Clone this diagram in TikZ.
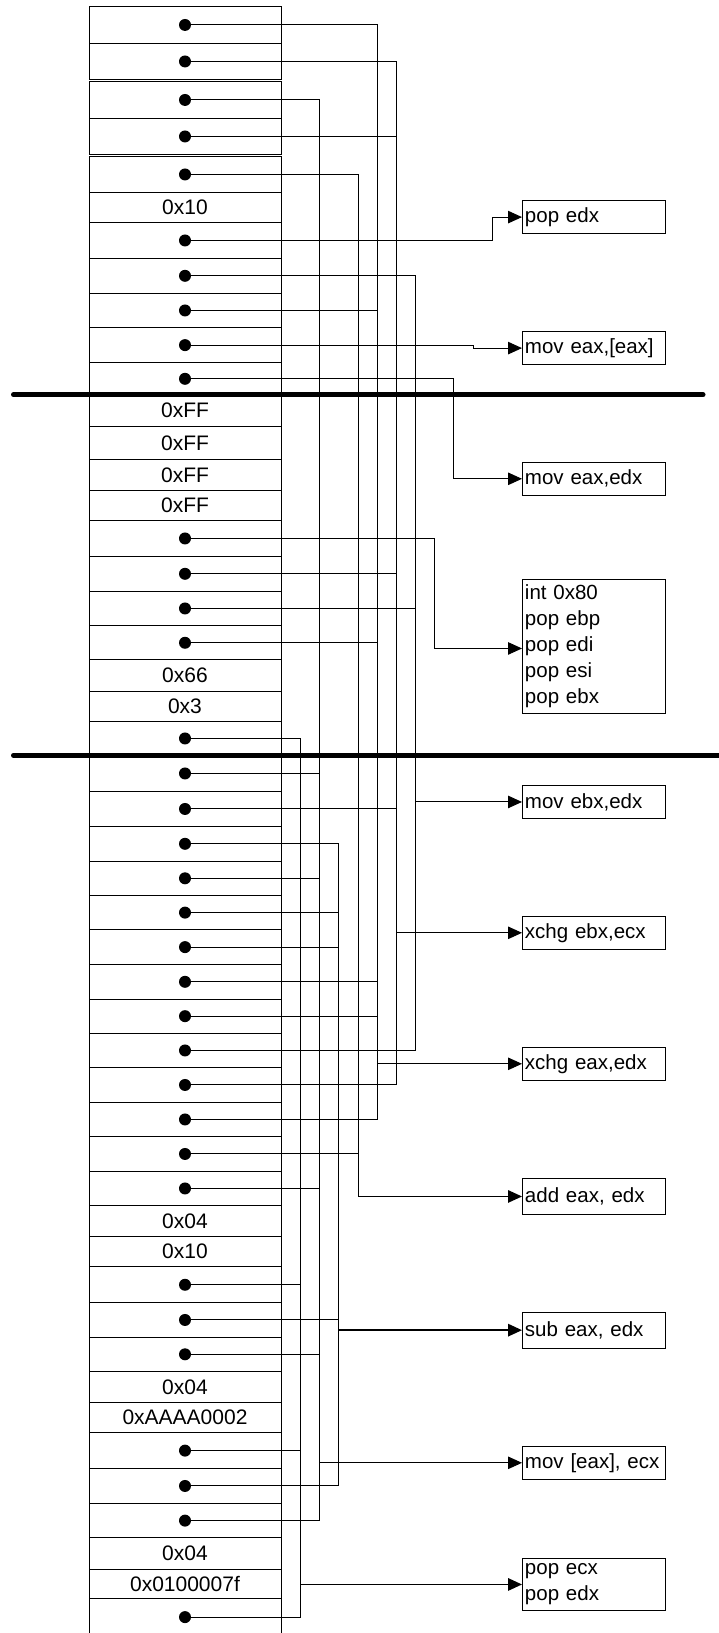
\documentclass[tikz,border=0pt]{standalone}
\usepackage{fontspec}
\setmainfont{Liberation Sans}
\usetikzlibrary{arrows.meta}
\tikzset{
  cell/.style={draw, line width=0.9pt, minimum width=192pt, inner sep=0pt, anchor=north,
    font=\fontsize{21}{25}\selectfont},
  stackdot/.style={circle, fill=black, inner sep=0pt, minimum size=12pt},
  conn/.style={line width=1pt},
  arr/.style={conn, -{Triangle[length=14pt,width=12.5pt]}},
  instr/.style={draw, line width=0.9pt, text width=137.5pt, inner xsep=2.5pt, inner ysep=0pt,
    align=left, anchor=north west, font=\fontsize{20.5}{26}\selectfont},
  sep/.style={line width=5pt, line cap=round}
}
\begin{document}
\begin{tikzpicture}[x=1pt,y=-1pt]
\useasboundingbox (0,0) rectangle (719,1633);
\clip (0,0) rectangle (719,1633);
% stack cells
\foreach \n/\t/\b/\l in {
 1/6/43/{}, 2/43/79/{}, 3/81/118/{}, 4/118/154/{},
 5/156/192/{}, 6/192/222/0x10, 7/222/258/{}, 8/258/292.7/{}, 9/292.7/327.3/{},
 10/327.3/362/{}, 11/362/394.7/{}, 12/394.7/425.7/0xFF, 13/425.7/459/0xFF,
 14/459/490.3/0xFF, 15/490.3/520/0xFF, 16/520/556/{}, 17/556/590.7/{},
 18/590.7/625.3/{}, 19/625.3/659.3/{}, 20/659.3/691/0x66, 21/691/721/0x3,
 22/721/755/{}, 23/755/791/{}, 24/791/826/{}, 25/826/860.7/{}, 26/860.7/895/{},
 27/895/929.3/{}, 28/929.3/964/{}, 29/964/998.7/{}, 30/998.7/1032.7/{},
 31/1032.7/1067.3/{}, 32/1067.3/1101.7/{}, 33/1101.7/1136.3/{}, 34/1136.3/1170.7/{},
 35/1170.7/1205.3/{}, 36/1205.3/1236/0x04, 37/1236/1266.3/0x10, 38/1266.3/1302.3/{},
 39/1302.3/1336.7/{}, 40/1336.7/1371/{}, 41/1371/1402/0x04, 42/1402/1432.3/0xAAAA0002,
 43/1432.3/1468/{}, 44/1468/1503/{}, 45/1503/1537.3/{}, 46/1537.3/1568.7/0x04,
 47/1568.7/1598.3/0x0100007f, 48/1598.3/1635/{}}
 \node[cell, minimum height={\b-\t}] (c\n) at (185,\t) {\l};
% dots
\foreach \n in {1,2,3,4,5,7,8,9,10,11,16,17,18,19,22,23,24,25,26,27,28,29,30,31,32,33,34,35,38,39,40,43,44,45,48}
 \node[stackdot] (d\n) at (c\n.center) {};
% instruction boxes
\node[instr, minimum height=33.3pt] (bpopedx) at (522,200) {pop edx};
\node[instr, minimum height=33.3pt] (bmoveaxm) at (522,331) {mov eax,[eax]};
\node[instr, minimum height=33.3pt] (bmoveaxedx) at (522,461.7) {mov eax,edx};
\node[instr, minimum height=134.6pt] (bint) at (522,578.7) {int 0x80\\pop ebp\\pop edi\\pop esi\\pop ebx};
\node[instr, minimum height=33.6pt] (bmovebx) at (522,784.7) {mov ebx,edx};
\node[instr, minimum height=33.3pt] (bxchgebx) at (522,915.7) {xchg ebx,ecx};
\node[instr, minimum height=33.3pt] (bxchgeax) at (522,1046.7) {xchg eax,edx};
\node[instr, minimum height=36pt] (badd) at (522,1178) {add eax, edx};
\node[instr, minimum height=36pt] (bsub) at (522,1311.7) {sub eax, edx};
\node[instr, minimum height=33.3pt] (bmovm) at (522,1445.7) {mov [eax], ecx};
\node[instr, minimum height=52pt] (bpopecx) at (522,1558) {pop ecx\\pop edx};
% bus columns
\coordinate (xA) at (300,0);
\coordinate (xB) at (319.3,0);
\coordinate (xC) at (338.7,0);
\coordinate (xD) at (358,0);
\coordinate (xE) at (377,0);
\coordinate (xF) at (396,0);
\coordinate (xG) at (415,0);
\coordinate (xH) at (434,0);
\coordinate (xI) at (453.7,0);
\coordinate (xJ) at (473.3,0);
\coordinate (xK) at (492.3,0);
% group A -> pop ecx / pop edx
\draw[conn] (d22) -| (xA |- d48) -- (d48);
\foreach \n in {38,43} \draw[conn] (d\n) -- (d\n -| xA);
\draw[arr, line width=1.6pt] (xA |- bpopecx.west) -- (bpopecx.west);
% group B -> mov [eax], ecx
\draw[conn] (d3) -| (xB |- d45) -- (d45);
\foreach \n in {23,26,35,40} \draw[conn] (d\n) -- (d\n -| xB);
\draw[arr] (xB |- bmovm.west) -- (bmovm.west);
% group C -> sub eax, edx
\draw[conn] (d25) -| (xC |- d44) -- (d44);
\foreach \n in {27,28,39} \draw[conn] (d\n) -- (d\n -| xC);
\draw[arr, line width=1.6pt] (xC |- bsub.west) -- (bsub.west);
% group D -> add eax, edx
\draw[conn] (d5) -| (xD |- badd.west);
\draw[arr, line width=1.3pt] (xD |- badd.west) -- (badd.west);
\draw[conn] (d34) -- (d34 -| xD);
% group E -> xchg eax,edx
\draw[conn] (d1) -| (xE |- d33) -- (d33);
\foreach \n in {9,19,29,30} \draw[conn] (d\n) -- (d\n -| xE);
\draw[arr] (xE |- bxchgeax.west) -- (bxchgeax.west);
% group F -> xchg ebx,ecx
\draw[conn] (d2) -| (xF |- d32) -- (d32);
\foreach \n in {4,17,24} \draw[conn] (d\n) -- (d\n -| xF);
\draw[arr] (xF |- bxchgebx.west) -- (bxchgebx.west);
% group G -> mov ebx,edx
\draw[conn] (d8) -| (xG |- d31) -- (d31);
\draw[conn] (d18) -- (d18 -| xG);
\draw[arr] (xG |- bmovebx.west) -- (bmovebx.west);
% single connectors
\draw[arr] (d16) -| ([yshift=-2pt]xH |- bint.west) -- ([yshift=-2pt]bint.west);
\draw[arr] (d11) -| (xI |- bmoveaxedx.west) -- (bmoveaxedx.west);
\draw[arr] (d10) -| (xJ |- bmoveaxm.west) -- (bmoveaxm.west);
\draw[arr] (d7) -| (xK |- bpopedx.west) -- (bpopedx.west);
% thick separators
\draw[sep] (13.5,394.7) -- (703,394.7);
\draw[sep] (13.5,755.3) -- (725,755.3);
\end{tikzpicture}
\end{document}
